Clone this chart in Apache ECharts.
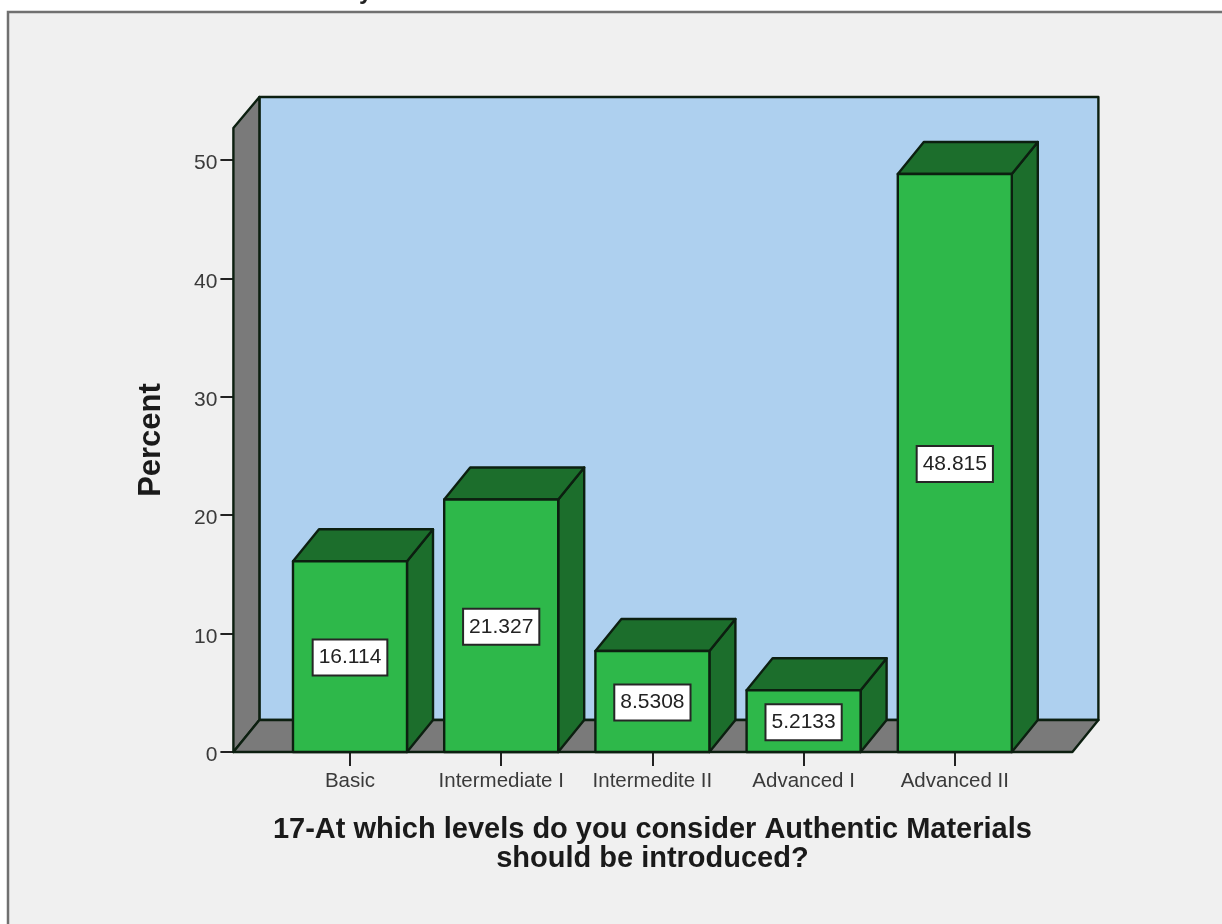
<!DOCTYPE html>
<html><head><meta charset="utf-8">
<style>html,body{margin:0;padding:0;background:#fff;overflow:hidden}#c{width:1222px;height:924px;filter:blur(0.6px)}</style>
<script src="https://cdn.jsdelivr.net/npm/echarts@6/dist/echarts.min.js"></script>
</head><body><div id="c"></div>
<script>
const categories = ['Basic','Intermediate I','Intermediate II','Advanced I','Advanced II'];
const categoryLabels = ['Basic','Intermediate I','Intermedite II','Advanced I','Advanced II'];
const percentValues = [16.114, 21.327, 8.5308, 5.2133, 48.815];
const yTicks = [0,10,20,30,40,50];
const xTitle = '17-At which levels do you consider Authentic Materials\nshould be introduced?';
const yTitle = 'Percent';

const DX = 26, DY = 32, SIDE = 41;
const OUT = '#0c1f10';
const font = '"Liberation Sans", Arial, sans-serif';

function poly(points, fill){
  return {type:'polygon', shape:{points}, style:{fill, stroke:OUT, lineWidth:2.4, lineJoin:'round'}};
}
function renderRoom(params, api){
  const cs = params.coordSys;
  const x0 = cs.x - SIDE, x1 = cs.x + cs.width + SIDE + 1;
  const yB = api.coord([0,0])[1], yT = cs.y;
  return {type:'group', children:[
    poly([[x0+DX,yT-DY+1],[x1+DX,yT-DY+1],[x1+DX,yB-DY],[x0+DX,yB-DY]], '#aed0ef'),
    poly([[x0,yT],[x0+DX,yT-DY+1],[x0+DX,yB-DY],[x0,yB]], '#7a7a7a'),
    poly([[x0,yB],[x0+DX,yB-DY],[x1+DX,yB-DY],[x1,yB]], '#7a7a7a')
  ]};
}
function renderBar(params, api){
  const c = api.coord([api.value(0), api.value(1)]);
  const base = api.coord([api.value(0), 0]);
  const w = api.size([1,0])[0]*0.754;
  const l = c[0]-w/2, r = c[0]+w/2, t = c[1], b = base[1];
  return {type:'group', children:[
    poly([[r,t],[r+DX,t-DY],[r+DX,b-DY],[r,b]], '#1c6e2c'),
    poly([[l,t],[l+DX,t-DY],[r+DX,t-DY],[r,t]], '#1c6e2c'),
    poly([[l,t],[r,t],[r,b],[l,b]], '#2eb84a'),
    {type:'text', x:c[0], y:(t+b)/2+1, style:{
      text:String(api.value(1)), align:'center', verticalAlign:'middle',
      font:'21px '+font, lineHeight:24, fill:'#222', backgroundColor:'#fff',
      borderColor:'#262626', borderWidth:2, padding:[5,5,5,5]
    }}
  ]};
}
const chart = echarts.init(document.getElementById('c'), null, {renderer:'canvas'});
chart.setOption({
  animation:false,
  backgroundColor:'#fff',
  graphic:[
    {type:'rect', z:-10, shape:{x:8,y:12,width:1300,height:1000}, style:{fill:'#f0f0f0',stroke:'#707070',lineWidth:2.5}},
    {type:'text', z:-9, x:359, y:-20, style:{text:'y', font:'bold 24px '+font, fill:'#222'}}
  ],
  grid:{left:274.4, width:756, top:128, height:624},
  xAxis:{
    type:'category', data:categories, boundaryGap:true,
    axisLine:{show:false},
    axisTick:{show:true, alignWithLabel:true, length:14, lineStyle:{color:'#222',width:2}},
    axisLabel:{interval:0, margin:19, color:'#3a3a3a', fontFamily:font, fontSize:20.5,
      formatter:(v,i)=>categoryLabels[i]},
    name:xTitle, nameLocation:'middle', nameGap:63,
    nameTextStyle:{fontFamily:font, fontWeight:'bold', fontSize:29, lineHeight:29, color:'#1a1a1a'}
  },
  yAxis:{
    type:'value', min:0, max:52.7, offset:SIDE,
    axisLine:{show:true, lineStyle:{color:OUT,width:2}},
    axisTick:{show:true, length:13, customValues:yTicks, lineStyle:{color:'#222',width:2}},
    axisLabel:{margin:16, customValues:yTicks, formatter:v=>'{a|'+v+'}',
      rich:{a:{color:'#3a3a3a', fontFamily:font, fontSize:21, padding:[7,0,0,0]}}},
    splitLine:{show:false},
    name:yTitle, nameLocation:'middle', nameGap:66, nameRotate:90,
    nameTextStyle:{fontFamily:font, fontWeight:'bold', fontSize:31, color:'#1a1a1a'}
  },
  series:[
    {type:'custom', name:'room', renderItem:renderRoom, data:[[0,0]], encode:{x:0,y:1}, z:1, silent:true},
    {type:'custom', name:'Percent', renderItem:renderBar, encode:{x:0,y:1}, z:2,
     data:percentValues.map((v,i)=>[i,v])}
  ]
});
</script></body></html>
